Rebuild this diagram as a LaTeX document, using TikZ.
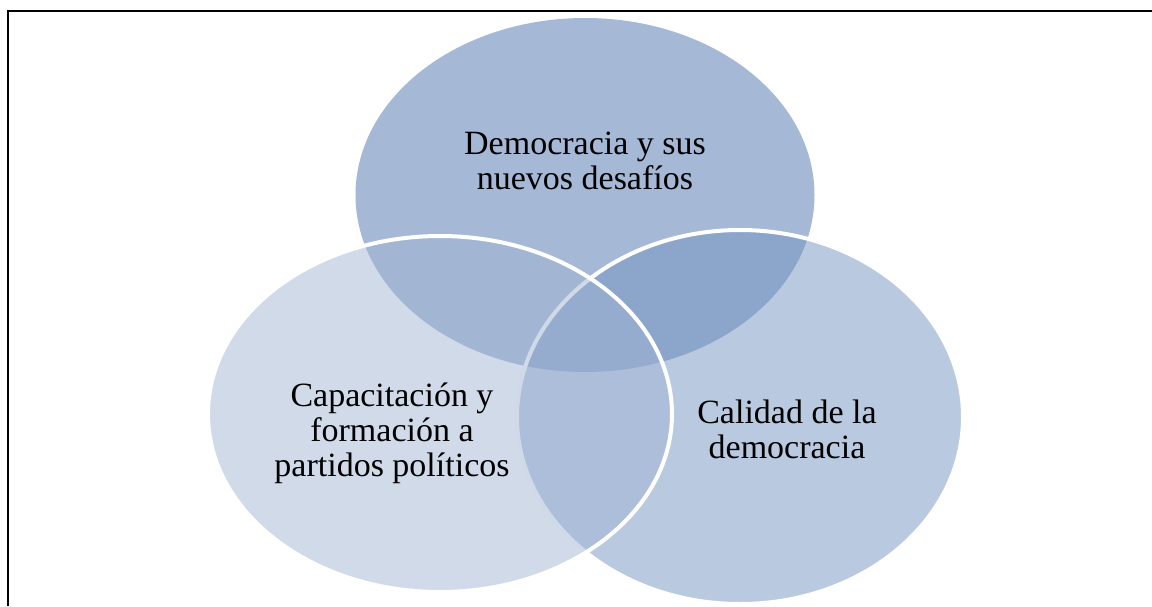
\documentclass[tikz,border=0pt]{standalone}
\usepackage{fontspec}
\setmainfont{Liberation Serif}
\usetikzlibrary{shapes.geometric}
\definecolor{ctop}{RGB}{75,113,173}
\definecolor{cright}{RGB}{115,147,193}
\definecolor{cleft}{RGB}{161,181,211}
\tikzset{
  venn/.style={ellipse, inner sep=0pt, outer sep=0pt, fill opacity=0.5, line width=4pt},
  lbl/.style={align=center, text=black, inner sep=0pt, font=\fontsize{34}{35}\selectfont},
  frame/.style={line width=2pt, black}
}
\begin{document}
\begin{tikzpicture}[x=1pt, y=-1pt]
\useasboundingbox (0,0) rectangle (1152,606);
\coordinate (f1) at (7.5,606);
\coordinate (f2) at (7.5,10.5);
\coordinate (f3) at (1152,10.5);
\draw[frame] (f1) -- (f2) -- (f3);
\node[venn, fill=ctop, draw=none, minimum width=459pt, minimum height=354pt] (top) at (585,195) {};
\node[venn, fill=cright, draw=white, minimum width=446pt, minimum height=374pt] (right) at (740,417) {};
\node[venn, fill=cleft, draw=white, minimum width=464pt, minimum height=356pt] (left) at (440,414) {};
\node[lbl] (ttop) at (585,161) {Democracia y sus\\nuevos desafíos};
\node[lbl] (tleft) at (392,433) {Capacitación y\\formación a\\partidos políticos};
\node[lbl] (tright) at (787,429) {Calidad de la\\democracia};
\end{tikzpicture}
\end{document}
